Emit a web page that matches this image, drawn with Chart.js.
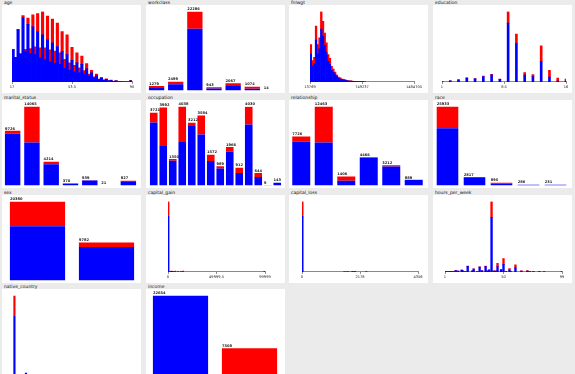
<!DOCTYPE html>
<html>
<head>
<meta charset="utf-8">
<script src="https://cdn.jsdelivr.net/npm/chart.js@4.4.1/dist/chart.umd.min.js"></script>
<style>
  html, body { margin: 0; padding: 0; width: 575px; height: 374px; overflow: hidden; background: #ebebeb; font-family: "DejaVu Sans", sans-serif; }
  .panel { position: absolute; width: 139px; height: 93px; }
  .panel .ttl { position: absolute; left: 2px; top: 0; font-size: 4.5px; line-height: 5px; color: #111; white-space: nowrap; }
  .panel .plot { position: absolute; left: 0; top: 5px; width: 139px; height: 88px; background: #fff; }
  .panel canvas { display: block; }
</style>
</head>
<body>
<script>
"use strict";

/* ── Data: class order is <=50K (blue), >50K (red) ───────────── */

// age histogram (bin centres, counts)
const ageBins  = [17.7, 19.2, 20.7, 22.2, 23.7, 25.2, 26.7, 28.2, 29.7, 31.2, 32.6, 34.1, 35.6, 37.1, 38.6, 40.1, 41.6,
                  43.1, 44.6, 46.1, 47.5, 49.0, 50.5, 52.0, 53.5, 55.0, 56.5, 58.0, 59.5, 61.0, 62.4, 63.9, 65.4,
                  66.9, 68.4, 69.9, 71.4, 72.9, 74.4, 75.8, 77.3, 78.8, 80.3, 81.8, 83.3, 84.8, 86.3, 87.8, 89.3];
const ageLow   = [775, 588, 1250, 665, 1540, 735, 1380, 680, 1320, 655, 1210, 575, 1130, 535, 1010, 480, 940,
                  445, 850, 420, 725, 325, 655, 275, 515, 250, 455, 225, 420, 190, 315, 142, 218,
                  95, 150, 56, 88, 40, 61, 25, 37, 13, 25, 7, 8, 3, 2, 3, 27];
const ageHigh  = [0, 2, 10, 15, 50, 45, 150, 120, 290, 185, 430, 245, 560, 285, 570, 290, 570,
                  295, 560, 280, 485, 215, 475, 185, 315, 150, 245, 115, 200, 80, 125, 48, 62,
                  25, 40, 14, 22, 10, 14, 5, 8, 2, 5, 1, 2, 0, 0, 0, 10];
const ageTicks = [17, 53.5, 90];

// fnlwgt histogram
const fnlwgtBins  = [26027, 50543, 75059, 99575, 124091, 148607, 173123, 197639, 222155, 246671, 271187,
                     295703, 320219, 344735, 369251, 393767, 418283, 442799, 467315, 491831, 516347,
                     540863, 565379, 589895, 614411, 638927, 663443, 687959, 712475, 736991, 761507, 786023];
const fnlwgtLow   = [1340, 770, 880, 2010, 1340, 1590, 2540, 2190, 1760, 1410, 985, 850, 560, 460, 350, 250,
                     175, 140, 105, 88, 70, 52, 42, 35, 28, 21, 16, 12, 9, 7, 5, 4];
const fnlwgtHigh  = [450, 260, 295, 670, 450, 525, 845, 725, 590, 470, 330, 280, 190, 150, 120, 80,
                     60, 50, 35, 30, 24, 18, 14, 12, 10, 7, 6, 4, 3, 2, 2, 1];
const fnlwgtTicks = [13769, 749237, 1484705];

// education (numeric code 1..16)
const eduBins  = [1, 2, 3, 4, 5, 6, 7, 8, 9, 10, 11, 12, 13, 14, 15, 16];
const eduLow   = [45, 145, 276, 522, 428, 758, 989, 348, 8223, 5342, 963, 743, 2823, 668, 119, 95];
const eduHigh  = [0, 6, 12, 35, 27, 62, 59, 29, 1617, 1336, 344, 265, 2221, 959, 423, 280];
const eduTicks = [1, 8.5, 16];

// capital_gain histogram
const gainBins  = [500, 2500, 3500, 4500, 5500, 7500, 10500, 13500, 15500, 99500];
const gainLow   = [21824, 120, 250, 180, 60, 0, 0, 0, 0, 0];
const gainHigh  = [5800, 20, 20, 30, 120, 300, 100, 100, 330, 148];
const gainTicks = [0, 49999.5, 99999];

// capital_loss histogram
const lossBins  = [22, 1590, 1672, 1740, 1887, 1902, 1977, 2001, 2415];
const lossLow   = [22700, 30, 30, 40, 0, 50, 40, 15, 0];
const lossHigh  = [6035, 5, 5, 5, 150, 150, 110, 5, 45];
const lossTicks = [0, 2178, 4356];

// hours_per_week histogram
const hoursBins  = [1, 2, 3, 4, 5, 6, 8, 10, 12, 15, 16, 18, 20, 24, 25, 28, 30, 32, 35, 36, 37, 38, 40, 42,
                    43, 44, 45, 48, 50, 52, 55, 56, 60, 65, 70, 72, 75, 80, 84, 99];
const hoursLow   = [17, 30, 29, 29, 37, 38, 125, 250, 142, 368, 182, 67, 1115, 210, 575, 80, 951, 225, 1063,
                    170, 120, 360, 11051, 150, 90, 125, 1053, 300, 1518, 75, 360, 50, 805, 140, 185, 40, 40, 80, 26, 55];
const hoursHigh  = [1, 0, 1, 1, 3, 2, 5, 10, 8, 12, 8, 3, 35, 10, 25, 5, 60, 25, 120, 30, 20, 60, 3200, 70,
                    50, 75, 700, 200, 1200, 55, 290, 40, 600, 90, 95, 25, 20, 40, 14, 25];
const hoursTicks = [1, 50, 99];

// nominal attributes
const workclassCats = ["State-gov", "Self-emp-not-inc", "Private", "Federal-gov", "Local-gov", "Self-emp-inc", "Without-pay"];
const workclassLow  = [926, 1785, 17410, 578, 1458, 474, 14];
const workclassHigh = [353, 714, 4876, 365, 609, 600, 0];

const maritalCats = ["Never-married", "Married-civ-spouse", "Divorced", "Married-spouse-absent", "Separated", "Married-AF-spouse", "Widowed"];
const maritalLow  = [9256, 7666, 3762, 347, 873, 11, 744];
const maritalHigh = [470, 6399, 452, 23, 66, 10, 83];

const occupationCats = ["Adm-clerical", "Exec-managerial", "Handlers-cleaners", "Prof-specialty", "Other-service", "Sales",
                        "Transport-moving", "Farming-fishing", "Machine-op-inspct", "Tech-support", "Craft-repair",
                        "Protective-serv", "Armed-Forces", "Priv-house-serv"];
const occupationLow  = [3223, 2055, 1267, 2229, 3080, 2601, 1253, 874, 1721, 634, 3122, 433, 8, 142];
const occupationHigh = [498, 1937, 83, 1809, 132, 983, 319, 115, 245, 278, 908, 211, 1, 1];

const relationshipCats = ["Not-in-family", "Husband", "Wife", "Own-child", "Unmarried", "Other-relative"];
const relationshipLow  = [6903, 6784, 742, 4406, 3012, 856];
const relationshipHigh = [823, 5679, 664, 60, 200, 33];

const raceCats = ["White", "Black", "Asian-Pac-Islander", "Amer-Indian-Eskimo", "Other"];
const raceLow  = [18816, 2430, 648, 252, 210];
const raceHigh = [7117, 387, 247, 34, 21];

const sexCats = ["Male", "Female"];
const sexLow  = [13984, 8670];
const sexHigh = [6396, 1112];

const countryCats = ["United-States", "Cuba", "Jamaica", "India", "Mexico", "Puerto-Rico", "Honduras", "England", "Canada",
                     "Germany", "Iran", "Philippines", "Poland", "Columbia", "Cambodia", "Thailand", "Ecuador", "Laos",
                     "Taiwan", "Haiti", "Portugal", "Dominican-Republic", "El-Salvador", "France", "Guatemala", "Italy",
                     "China", "South", "Japan", "Yugoslavia", "Peru", "Outlying-US(Guam-USVI-etc)", "Scotland",
                     "Trinadad&Tobago", "Greece", "Nicaragua", "Vietnam", "Hong", "Ireland", "Hungary", "Holand-Netherlands"];
const countryLow  = [20333, 67, 70, 60, 577, 97, 11, 56, 71, 84, 26, 127, 45, 54, 11, 14, 23, 15, 23, 38, 30, 65, 91, 18,
                     61, 43, 48, 57, 38, 10, 28, 14, 8, 16, 21, 31, 59, 13, 19, 10, 1];
const countryHigh = [7171, 25, 10, 40, 33, 12, 1, 30, 36, 44, 16, 61, 11, 2, 7, 3, 4, 2, 19, 4, 4, 2, 9, 9,
                     2, 25, 20, 14, 21, 6, 2, 0, 3, 2, 8, 2, 5, 6, 5, 3, 0];

const incomeCats = ["<=50K", ">50K"];
const incomeLow  = [22654, 0];
const incomeHigh = [0, 7508];

/* ── Styles / layout ─────────────────────────────────────────── */
const BLUE = "#0000ff";
const RED  = "#ff0000";
const COL_X = [2, 146, 289, 433];
const ROW_Y = [0, 95, 190, 284];
const PLOT_W = 139, PLOT_H = 88;

Chart.defaults.font.family = "'DejaVu Sans', sans-serif";

const PANELS = [
  { title: "age",            kind: "hist", xs: ageBins,    low: ageLow,    high: ageHigh,    ticks: ageTicks,    pad: [10, 9],  bar: 2.45 },
  { title: "workclass",      kind: "nom",  cats: workclassCats, low: workclassLow, high: workclassHigh, pad: [1, 4] },
  { title: "fnlwgt",         kind: "hist", xs: fnlwgtBins, low: fnlwgtLow, high: fnlwgtHigh, ticks: fnlwgtTicks, pad: [21, 14], bar: 1.7 },
  { title: "education",      kind: "hist", xs: eduBins,    low: eduLow,    high: eduHigh,    ticks: eduTicks,    pad: [9, 6],   bar: 2 },
  { title: "marital_status", kind: "nom",  cats: maritalCats, low: maritalLow, high: maritalHigh, pad: [1, 3] },
  { title: "occupation",     kind: "nom",  cats: occupationCats, low: occupationLow, high: occupationHigh, pad: [3, 3] },
  { title: "relationship",   kind: "nom",  cats: relationshipCats, low: relationshipLow, high: relationshipHigh, pad: [1, 3] },
  { title: "race",           kind: "nom",  cats: raceCats, low: raceLow, high: raceHigh, pad: [1, 3] },
  { title: "sex",            kind: "nom",  cats: sexCats, low: sexLow, high: sexHigh, pad: [1, 0] },
  { title: "capital_gain",   kind: "hist", xs: gainBins,   low: gainLow,   high: gainHigh,   ticks: gainTicks,   pad: [22, 20], bar: 1.2 },
  { title: "capital_loss",   kind: "hist", xs: lossBins,   low: lossLow,   high: lossHigh,   ticks: lossTicks,   pad: [13, 10], bar: 1.2 },
  { title: "hours_per_week", kind: "hist", xs: hoursBins,  low: hoursLow,  high: hoursHigh,  ticks: hoursTicks,  pad: [12, 10], bar: 1.7 },
  { title: "native_country", kind: "nom",  cats: countryCats, low: countryLow, high: countryHigh, pad: [11, 10], noLabels: true, barPct: 0.75 },
  { title: "income",         kind: "nom",  cats: incomeCats, low: incomeLow, high: incomeHigh, pad: [0, 1] },
];

/* ── Plugin: total count above each nominal bar ──────────────── */
const countLabels = {
  id: "countLabels",
  afterDatasetsDraw(chart) {
    if (chart.config.options.noLabels) return;
    const { ctx } = chart;
    const lowBars = chart.getDatasetMeta(0).data;
    const highBars = chart.getDatasetMeta(1).data;
    const [dLow, dHigh] = chart.data.datasets.map(d => d.data);
    ctx.save();
    ctx.font = "bold 3.6px 'DejaVu Sans', sans-serif";
    ctx.fillStyle = "#222";
    ctx.textAlign = "left";
    ctx.textBaseline = "bottom";
    highBars.forEach((bar, i) => {
      const top = Math.min(bar.y, lowBars[i].y);
      ctx.fillText(String(dLow[i] + dHigh[i]), bar.x - bar.width / 2, top - 0.5);
    });
    ctx.restore();
  }
};

function totalsMax(low, high) {
  return Math.max(...low.map((v, i) => v + high[i]));
}

function buildHist(canvas, p) {
  return new Chart(canvas, {
    type: "bar",
    data: {
      datasets: [
        { data: p.xs.map((x, i) => ({ x, y: p.low[i] })),  backgroundColor: BLUE, barThickness: p.bar },
        { data: p.xs.map((x, i) => ({ x, y: p.high[i] })), backgroundColor: RED,  barThickness: p.bar },
      ]
    },
    options: {
      responsive: false,
      animation: false,
      layout: { padding: { left: p.pad[0], right: p.pad[1], top: 6.5, bottom: 2.8 } },
      scales: {
        x: {
          type: "linear", stacked: true, offset: false,
          min: p.ticks[0], max: p.ticks[2],
          afterBuildTicks: s => { s.ticks = p.ticks.map(v => ({ value: v })); },
          ticks: { font: { size: 3.6 }, color: "#222", padding: 1, autoSkip: false, maxRotation: 0,
                   callback: v => String(v) },
          grid: { display: true, offset: false, drawOnChartArea: false, tickLength: 2, color: "#8a8a8a" },
          border: { color: "#8a8a8a" },
        },
        y: { stacked: true, display: false, min: 0, max: totalsMax(p.low, p.high) },
      },
      plugins: { legend: { display: false }, tooltip: { enabled: false } },
    }
  });
}

function buildNominal(canvas, p) {
  return new Chart(canvas, {
    type: "bar",
    plugins: [countLabels],
    data: {
      labels: p.cats,
      datasets: [
        { data: p.low,  backgroundColor: BLUE },
        { data: p.high, backgroundColor: RED },
      ]
    },
    options: {
      responsive: false,
      animation: false,
      noLabels: !!p.noLabels,
      datasets: { bar: { categoryPercentage: 1, barPercentage: p.barPct || 0.8 } },
      layout: { padding: { left: p.pad[0], right: p.pad[1], top: 6.5, bottom: 2.5 } },
      scales: {
        x: { stacked: true, display: false },
        y: { stacked: true, display: false, min: 0, max: totalsMax(p.low, p.high) },
      },
      plugins: { legend: { display: false }, tooltip: { enabled: false } },
    }
  });
}

PANELS.forEach((p, i) => {
  const panel = document.createElement("div");
  panel.className = "panel";
  panel.style.left = COL_X[i % 4] + "px";
  panel.style.top  = ROW_Y[Math.floor(i / 4)] + "px";

  const ttl = document.createElement("div");
  ttl.className = "ttl";
  ttl.textContent = p.title;

  const plot = document.createElement("div");
  plot.className = "plot";
  const canvas = document.createElement("canvas");
  canvas.width = PLOT_W;
  canvas.height = PLOT_H;
  plot.appendChild(canvas);

  panel.appendChild(ttl);
  panel.appendChild(plot);
  document.body.appendChild(panel);

  if (p.kind === "hist") buildHist(canvas, p);
  else buildNominal(canvas, p);
});
</script>
</body>
</html>
